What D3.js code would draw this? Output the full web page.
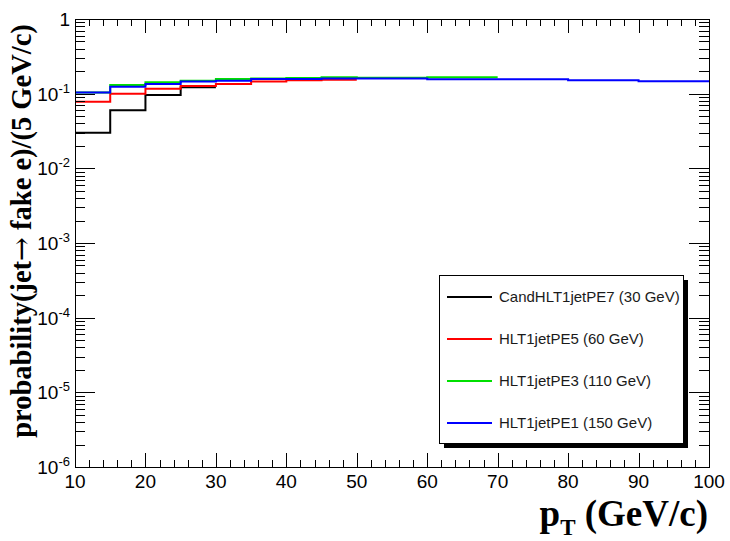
<!DOCTYPE html>
<html>
<head>
<meta charset="utf-8">
<script src="https://cdn.jsdelivr.net/npm/d3@7"></script>
<style>
  body { margin: 0; background: #fff; }
  svg { display: block; }
</style>
</head>
<body>
<div id="chart"></div>
<script>
// bins are 5 GeV wide, first bin starts at 10 GeV
const binStart = 10;
const binWidth = 5;

const seriesNames = [
  "CandHLT1jetPE7 (30 GeV)",
  "HLT1jetPE5 (60 GeV)",
  "HLT1jetPE3 (110 GeV)",
  "HLT1jetPE1 (150 GeV)"
];
const seriesColors = ["#000000", "#ff0000", "#00e000", "#0000ff"];

const pe7 = [0.030, 0.060, 0.096, 0.122];
const pe5 = [0.078, 0.100, 0.116, 0.127, 0.135, 0.145, 0.151, 0.154];
const pe3 = [0.104, 0.131, 0.142, 0.149, 0.157, 0.160, 0.162, 0.166, 0.164, 0.164, 0.166, 0.166];
const pe1 = [0.104, 0.124, 0.135, 0.145, 0.149, 0.157, 0.157, 0.160, 0.160, 0.160,
             0.156, 0.156, 0.156, 0.156, 0.151, 0.151, 0.147, 0.147];
const series = [pe7, pe5, pe3, pe1];

const xTicks = [10, 20, 30, 40, 50, 60, 70, 80, 90, 100];
const yDecades = [0, -1, -2, -3, -4, -5, -6];

const W = 730, H = 541;
const frame = { left: 75, right: 709, top: 19, bottom: 467 };

const x = d3.scaleLinear().domain([10, 100]).range([frame.left, frame.right]);
const y = d3.scaleLog().domain([1e-6, 1]).range([frame.bottom, frame.top]);

const svg = d3.select("#chart").append("svg")
  .attr("width", W)
  .attr("height", H);

const sans = "'Liberation Sans', Arial, Helvetica, sans-serif";
const serif = "'Liberation Serif', 'Times New Roman', serif";

/* histograms */
const line = d3.line()
  .x(d => x(d[0]))
  .y(d => y(d[1]))
  .curve(d3.curveStepAfter);

series.forEach((vals, i) => {
  const pts = vals.map((v, k) => [binStart + k * binWidth, v]);
  pts.push([binStart + vals.length * binWidth, vals[vals.length - 1]]);
  svg.append("path")
    .attr("d", line(pts))
    .attr("fill", "none")
    .attr("stroke", seriesColors[i])
    .attr("stroke-width", 2);
});

/* ticks */
const ticks = svg.append("g").attr("stroke", "#000").attr("stroke-width", 1);

const xMinor = d3.range(10, 100.01, 2);
xMinor.forEach(v => {
  const major = v % 10 === 0;
  const len = major ? 14 : 7;
  const px = Math.round(x(v)) + 0.5;
  ticks.append("line").attr("x1", px).attr("x2", px)
    .attr("y1", frame.bottom).attr("y2", frame.bottom - len);
  ticks.append("line").attr("x1", px).attr("x2", px)
    .attr("y1", frame.top).attr("y2", frame.top + len);
});

yDecades.forEach(e => {
  for (let m = 1; m <= 9; m++) {
    const v = m * Math.pow(10, e);
    if (e === 0 && m > 1) continue;
    const len = m === 1 ? 20 : 10;
    const py = Math.round(y(v)) + 0.5;
    ticks.append("line").attr("x1", frame.left).attr("x2", frame.left + len)
      .attr("y1", py).attr("y2", py);
    ticks.append("line").attr("x1", frame.right).attr("x2", frame.right - len)
      .attr("y1", py).attr("y2", py);
  }
});

/* frame */
svg.append("rect")
  .attr("x", frame.left + 0.5).attr("y", frame.top + 0.5)
  .attr("width", frame.right - frame.left).attr("height", frame.bottom - frame.top)
  .attr("fill", "none").attr("stroke", "#000").attr("stroke-width", 1);

/* tick labels */
svg.append("g").selectAll("text")
  .data(xTicks)
  .join("text")
  .attr("x", d => x(d))
  .attr("y", 488)
  .attr("text-anchor", "middle")
  .attr("font-family", sans)
  .attr("font-size", 19)
  .attr("fill", "#000")
  .text(d => d);

const yl = svg.append("g").selectAll("text")
  .data(yDecades)
  .join("text")
  .attr("x", 70)
  .attr("y", d => y(Math.pow(10, d)) + 7)
  .attr("text-anchor", "end")
  .attr("font-family", sans)
  .attr("font-size", 19)
  .attr("fill", "#000");
yl.each(function(d) {
  const t = d3.select(this);
  if (d === 0) { t.text("1"); return; }
  t.append("tspan").text("10");
  t.append("tspan").attr("dy", -8).attr("font-size", 13).text(d);
});

/* axis titles */
const yt = svg.append("text")
  .attr("transform", "translate(31,231) rotate(-90)")
  .attr("text-anchor", "middle")
  .attr("font-family", serif)
  .attr("font-weight", "bold")
  .attr("font-size", 28.5)
  .attr("fill", "#000");
yt.append("tspan").text("probability(jet");
yt.append("tspan").attr("font-family", "'DejaVu Serif', serif").attr("font-weight", "normal").text("\u2192");
yt.append("tspan").text(" fake e)/(5 GeV/c)");

const xt = svg.append("text")
  .attr("x", 708)
  .attr("y", 526)
  .attr("text-anchor", "end")
  .attr("font-family", serif)
  .attr("font-weight", "bold")
  .attr("font-size", 37)
  .attr("fill", "#000");
xt.append("tspan").text("p");
xt.append("tspan").attr("dy", 9).attr("font-size", 23).text("T");
xt.append("tspan").attr("dy", -9).text(" (GeV/c)");

/* legend */
const lg = { x: 439, y: 275, w: 244, h: 168 };
svg.append("rect")
  .attr("x", lg.x + 5).attr("y", lg.y + 5)
  .attr("width", lg.w).attr("height", lg.h)
  .attr("fill", "#000");
svg.append("rect")
  .attr("x", lg.x + 0.5).attr("y", lg.y + 0.5)
  .attr("width", lg.w).attr("height", lg.h)
  .attr("fill", "#fff").attr("stroke", "#000");

const rows = [297, 339, 381, 423];
seriesNames.forEach((name, i) => {
  svg.append("line")
    .attr("x1", 447).attr("x2", 492)
    .attr("y1", rows[i]).attr("y2", rows[i])
    .attr("stroke", seriesColors[i]).attr("stroke-width", 2);
  svg.append("text")
    .attr("x", 499).attr("y", rows[i] + 5)
    .attr("font-family", sans)
    .attr("font-size", 15)
    .attr("fill", "#1a1a1a")
    .text(name);
});
</script>
</body>
</html>
